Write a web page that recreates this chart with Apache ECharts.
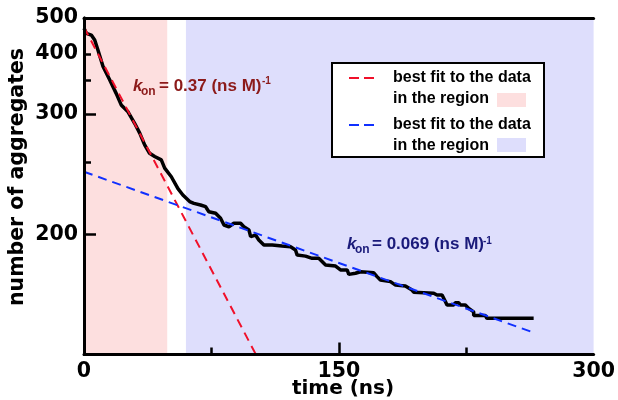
<!DOCTYPE html>
<html>
<head>
<meta charset="utf-8">
<script src="https://cdn.jsdelivr.net/npm/echarts@6/dist/echarts.min.js"></script>
<style>html,body{margin:0;padding:0;background:#fff}#c{width:618px;height:400px}</style>
</head>
<body>
<div id="c"></div>
<script>
// ---- data (time in ns, number of aggregates) ----
const timeNs = [0,1.4,4.3,6.3,8.2,11.2,15.1,19.0,21.9,25.9,29.8,32.8,35.7,38.6,41.6,45.5,47.5,51.4,55.3,58.2,62.2,64.7,68.6,71.6,73.5,77.5,80.4,82.4,85.3,88.2,92.2,94.1,97.1,98.1,101,102.9,105.9,110.8,116.6,121.6,124.5,125.5,130.4,134.3,138.2,142.2,148.1,151,154.9,155.9,159.8,162.8,170.6,172.5,174.5,180.4,183.4,189.2,193.1,194.1,205.9,207.8,210.8,212.8,213.7,217.6,218.6,220.6,221.6,224.5,226.5,229.4,229.4,236.3,237.2,264.7];
const aggregates = [467,452,447,434,409,374,350,328,312,303,289,278,266,258,255,252,245,238,229,224.5,220,218.8,217.7,216.6,213.4,212.4,209.3,205.3,204.3,206.3,206.3,204.3,202.4,198.7,199.6,196.9,194.2,194.2,193.7,193.3,191.7,189.1,188.6,187.5,187.5,184.3,183.8,182,182,180,180.5,181.2,180.7,179,177.5,176.8,175.3,174.9,173.2,172.3,171.9,171.2,171.2,168.5,167.2,167.2,168.1,168.1,167.2,167.2,165.9,164.6,163.2,163.2,162.2,162.2];
const redFitT = [0, 101.2];
const redFitN = [470, 150];
const blueFitT = [0, 263.5];
const blueFitN = [242, 157.4];
const redRegion = [0, 49];
const blueRegion = [60, 300];
const yTickLabels = [200, 300, 400, 500];
const yMinorTicks = [250, 350, 400];
const yMajorTicks = [200, 300];
const xTickLabels = [0, 150, 300];
const xMajorTicks = [150];
const xMinorTicks = [75, 225];
const yMin = 150, yMax = 500, xMin = 0, xMax = 300;

// reciprocal scale: plot 1/N on an inverted value axis
const inv = n => 1 / n;
const pts = (ts, ns) => ts.map((t, i) => [t, inv(ns[i])]);

const axisFont = 'DejaVu Sans';
const lblFont = 'Liberation Sans';
const pink = '#fddfdf', lav = '#dedefc';
const red = '#f0102a', blue = '#1030ff';

const chart = echarts.init(document.getElementById('c'), null, {renderer: 'canvas'});
const yBase = {type: 'value', inverse: true, min: inv(yMax), max: inv(yMin), splitLine: {show: false}, z: 10};
const xBase = {type: 'value', min: xMin, max: xMax, splitLine: {show: false}, z: 10};
const blackLine = {show: true, lineStyle: {color: '#000', width: 3}};

chart.setOption({
  animation: false,
  grid: {left: 84, right: 23, top: 18, bottom: 45.5},
  xAxis: [
    Object.assign({}, xBase, {
      position: 'bottom', interval: 150,
      axisLine: blackLine,
      axisTick: {show: true, inside: true, length: 12, customValues: xMajorTicks, lineStyle: {color: '#000', width: 2.5}},
      axisLabel: {customValues: xTickLabels, margin: 7, color: '#000', fontFamily: axisFont, fontWeight: 'bold', fontSize: 20.5}
    }),
    Object.assign({}, xBase, {
      position: 'bottom',
      axisLine: {show: false},
      axisTick: {show: true, inside: true, length: 7, customValues: xMinorTicks, lineStyle: {color: '#000', width: 2.5}},
      axisLabel: {show: false}
    }),
    Object.assign({}, xBase, {
      position: 'top', axisLine: blackLine, axisTick: {show: false}, axisLabel: {show: false}
    })
  ],
  yAxis: [
    Object.assign({}, yBase, {
      position: 'left',
      axisLine: blackLine,
      axisTick: {show: true, inside: true, length: 12, customValues: yMajorTicks.map(inv), lineStyle: {color: '#000', width: 2.5}},
      axisLabel: {customValues: yTickLabels.map(inv), formatter: v => String(Math.round(1 / v)), margin: 6,
        color: '#000', fontFamily: axisFont, fontWeight: 'bold', fontSize: 20.5}
    }),
    Object.assign({}, yBase, {
      position: 'left',
      axisLine: {show: false},
      axisTick: {show: true, inside: true, length: 7, customValues: yMinorTicks.map(inv), lineStyle: {color: '#000', width: 2.5}},
      axisLabel: {show: false}
    }),
    Object.assign({}, yBase, {
      position: 'right', axisLine: blackLine, axisTick: {show: false}, axisLabel: {show: false}
    })
  ],
  series: [
    {
      type: 'line', xAxisIndex: 0, yAxisIndex: 0, symbol: 'none',
      data: pts(timeNs, aggregates),
      lineStyle: {color: '#000', width: 3.5},
      z: 3,
      markArea: {
        silent: true,
        data: [
          [{xAxis: redRegion[0], itemStyle: {color: pink}}, {xAxis: redRegion[1]}],
          [{xAxis: blueRegion[0], itemStyle: {color: lav}}, {xAxis: blueRegion[1]}]
        ]
      }
    },
    {
      type: 'line', xAxisIndex: 0, yAxisIndex: 0, symbol: 'none', z: 4,
      data: pts(redFitT, redFitN),
      lineStyle: {color: red, width: 2, type: [9, 6]}
    },
    {
      type: 'line', xAxisIndex: 0, yAxisIndex: 0, symbol: 'none', z: 4,
      data: pts(blueFitT, blueFitN),
      lineStyle: {color: blue, width: 2, type: [9, 6]}
    }
  ],
  graphic: [
    {type: 'text', x: 18, y: 177, rotation: Math.PI / 2,
      style: {text: 'number of aggregates', fontFamily: axisFont, fontWeight: 'bold', fontSize: 20.5, fill: '#000', align: 'center', verticalAlign: 'middle'}},
    {type: 'text', x: 343, y: 389,
      style: {text: 'time (ns)', fontFamily: axisFont, fontWeight: 'bold', fontSize: 20, fill: '#000', align: 'center', verticalAlign: 'middle'}},
    // k_on label (red region)
    {type: 'text', x: 133, y: 86, z: 20, style: {text: 'k', fontFamily: lblFont, fontStyle: 'italic', fontWeight: 'bold', fontSize: 17, fill: '#8c1a1a', verticalAlign: 'middle'}},
    {type: 'text', x: 141, y: 92, z: 20, style: {text: 'on', fontFamily: lblFont, fontWeight: 'bold', fontSize: 12, fill: '#8c1a1a', verticalAlign: 'middle'}},
    {type: 'text', x: 159, y: 86, z: 20, style: {text: '= 0.37 (ns M)', fontFamily: lblFont, fontWeight: 'bold', fontSize: 17, fill: '#8c1a1a', verticalAlign: 'middle'}},
    {type: 'text', x: 262, y: 81.5, z: 20, style: {text: '-1', fontFamily: lblFont, fontWeight: 'bold', fontSize: 10, fill: '#8c1a1a', verticalAlign: 'middle'}},
    // k_on label (blue region)
    {type: 'text', x: 347, y: 244, z: 20, style: {text: 'k', fontFamily: lblFont, fontStyle: 'italic', fontWeight: 'bold', fontSize: 17, fill: '#1a1a7a', verticalAlign: 'middle'}},
    {type: 'text', x: 355, y: 250, z: 20, style: {text: 'on', fontFamily: lblFont, fontWeight: 'bold', fontSize: 12, fill: '#1a1a7a', verticalAlign: 'middle'}},
    {type: 'text', x: 372, y: 244, z: 20, style: {text: '= 0.069 (ns M)', fontFamily: lblFont, fontWeight: 'bold', fontSize: 17, fill: '#1a1a7a', verticalAlign: 'middle'}},
    {type: 'text', x: 483, y: 241, z: 20, style: {text: '-1', fontFamily: lblFont, fontWeight: 'bold', fontSize: 10, fill: '#1a1a7a', verticalAlign: 'middle'}},
    // legend box
    {type: 'rect', z: 30, shape: {x: 332, y: 63, width: 212, height: 94}, style: {fill: '#fff', stroke: '#000', lineWidth: 2}},
    {type: 'line', z: 31, shape: {x1: 349, y1: 78, x2: 376, y2: 78}, style: {stroke: red, lineWidth: 2, lineDash: [10, 5]}},
    {type: 'line', z: 31, shape: {x1: 349, y1: 125, x2: 376, y2: 125}, style: {stroke: blue, lineWidth: 2, lineDash: [10, 5]}},
    {type: 'text', z: 31, x: 393, y: 78, style: {text: 'best fit to the data', fontFamily: lblFont, fontWeight: 'bold', fontSize: 16, fill: '#000', verticalAlign: 'middle'}},
    {type: 'text', z: 31, x: 393, y: 99, style: {text: 'in the region', fontFamily: lblFont, fontWeight: 'bold', fontSize: 16, fill: '#000', verticalAlign: 'middle'}},
    {type: 'text', z: 31, x: 393, y: 125, style: {text: 'best fit to the data', fontFamily: lblFont, fontWeight: 'bold', fontSize: 16, fill: '#000', verticalAlign: 'middle'}},
    {type: 'text', z: 31, x: 393, y: 146, style: {text: 'in the region', fontFamily: lblFont, fontWeight: 'bold', fontSize: 16, fill: '#000', verticalAlign: 'middle'}},
    {type: 'rect', z: 31, shape: {x: 497, y: 93, width: 29, height: 14}, style: {fill: pink}},
    {type: 'rect', z: 31, shape: {x: 497, y: 138, width: 29, height: 14}, style: {fill: lav}}
  ]
});
</script>
</body>
</html>
